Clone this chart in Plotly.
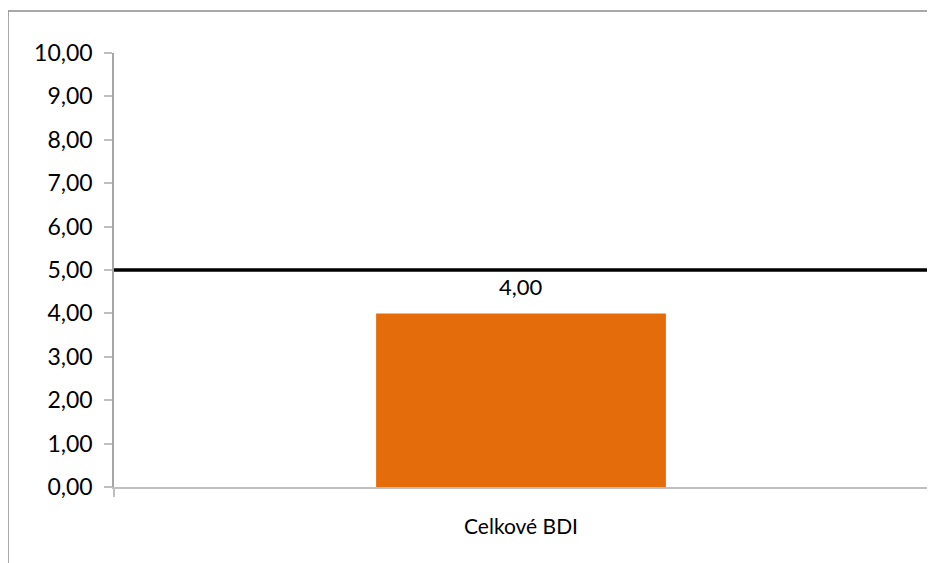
import plotly.graph_objects as go

categories = ["Celkové BDI"]
values = [4.00]
threshold = [5.00]
y_ticks = [0, 1, 2, 3, 4, 5, 6, 7, 8, 9, 10]

FONT = "Lato"

fig = go.Figure()
fig.add_trace(go.Bar(
    x=categories, y=values, width=0.356,
    marker=dict(color="#E46C0A", line=dict(width=0)),
    hoverinfo="skip", showlegend=False,
))

for c, v in zip(categories, values):
    fig.add_annotation(
        x=c, y=v, text=f"{v:.2f}".replace(".", ","), showarrow=False,
        yanchor="bottom", yshift=11,
        font=dict(family=FONT, size=22, color="#000000"),
    )

for t in threshold:
    fig.add_shape(type="line", xref="paper", yref="y", x0=0, x1=1.002, y0=t, y1=t,
                  line=dict(color="#000000", width=3.5), layer="above")

# outer chart border (partially beyond the visible frame)
fig.add_shape(type="rect", xref="paper", yref="paper",
              x0=(8 - 114) / 814, x1=1.2, y0=-0.4, y1=(487 - 11) / 434,
              line=dict(color="#8c8c8c", width=1.5), fillcolor="rgba(0,0,0,0)", layer="below")

fig.update_layout(
    width=935, height=563,
    margin=dict(l=106, r=15, t=45, b=84),
    paper_bgcolor="white", plot_bgcolor="white",
    separators=", ",
    font=dict(family=FONT, color="#000000"),
    showlegend=False,
)
fig.update_xaxes(
    type="category", showgrid=False, showline=True, linecolor="#bfbfbf", linewidth=1.5,
    ticks="outside", tickson="boundaries", ticklen=8, tickcolor="#bfbfbf", tickwidth=1.5,
    ticklabelstandoff=20,
    tickfont=dict(family=FONT, size=21, color="#000000"),
)
fig.update_yaxes(
    range=[0, 10], tickvals=y_ticks, tickformat=".2f", showgrid=False, zeroline=False,
    showline=True, linecolor="#a6a6a6", linewidth=1.5,
    ticks="outside", ticklen=8, tickcolor="#bfbfbf", tickwidth=1.5,
    ticklabelstandoff=7,
    tickfont=dict(family=FONT, size=23, color="#000000"),
)

fig.write_html("out.html")
